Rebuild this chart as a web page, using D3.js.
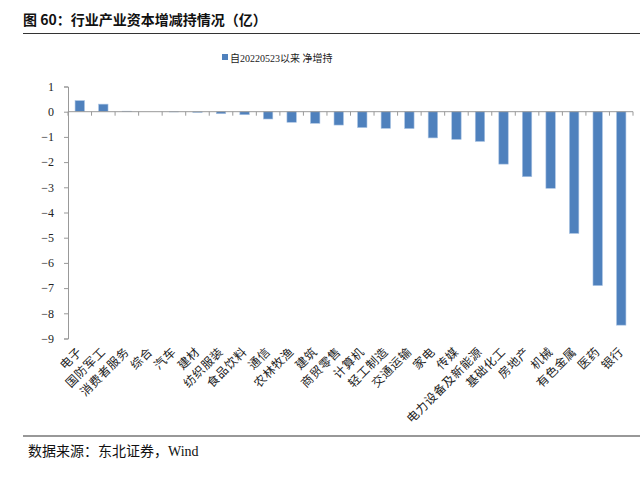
<!DOCTYPE html>
<html><head><meta charset="utf-8">
<script src="https://cdn.jsdelivr.net/npm/d3@7"></script>
<style>body{margin:0;background:#fff}svg{display:block}</style>
</head><body>
<svg id="c" width="640" height="480"></svg>
<script>
const categories = ["电子","国防军工","消费者服务","综合","汽车","建材","纺织服装","食品饮料","通信","农林牧渔","建筑","商贸零售","计算机","轻工制造","交通运输","家电","传媒","电力设备及新能源","基础化工","房地产","机械","有色金属","医药","银行"];
const values = [0.44,0.30,0.02,0.0,-0.01,-0.03,-0.08,-0.12,-0.29,-0.42,-0.46,-0.53,-0.63,-0.66,-0.67,-1.04,-1.10,-1.18,-2.08,-2.58,-3.04,-4.83,-6.90,-8.47];
const yTicks = [1,0,-1,-2,-3,-4,-5,-6,-7,-8,-9];
const seriesName = "自20220523以来 净增持";
const title = "图 60：行业产业资本增减持情况（亿）";
const source = "数据来源：东北证券，Wind";

(function () {
const svg = d3.select("#c");
const serif = "'Liberation Serif','Noto Sans CJK SC',serif";
const cjk = "'Noto Sans CJK SC',sans-serif";
const mLeft = 68, mRight = 633, mTop = 86.5, mBottom = 338.5;
const x = d3.scaleBand().domain(categories).range([mLeft, mRight]).paddingInner(0.6).paddingOuter(0.3);
const xb = d3.scaleBand().domain(categories).range([mLeft, mRight]);
const y = d3.scaleLinear().domain([-9, 1]).range([mBottom, mTop]);

// title
svg.append("text").attr("x", 23).attr("y", 25).attr("font-family", cjk).attr("font-weight", "bold").attr("font-size", 14).attr("fill", "#111").text(title);
svg.append("line").attr("x1", 23).attr("x2", 640).attr("y1", 33.5).attr("y2", 33.5).attr("stroke", "#333").attr("stroke-width", 1.2);

// legend
svg.append("rect").attr("x", 222).attr("y", 54).attr("width", 6).attr("height", 6).attr("fill", "#4f81bd");
svg.append("text").attr("x", 230).attr("y", 61.5).attr("font-family", serif).attr("font-size", 10).attr("fill", "#222").text(seriesName);

// y axis
const yAxis = svg.append("g").attr("transform", `translate(${mLeft},0)`)
  .call(d3.axisLeft(y).tickValues(yTicks).tickSize(4).tickFormat(d3.format("d")));
yAxis.select(".domain").attr("stroke", "#999");
yAxis.selectAll(".tick line").attr("stroke", "#999");
yAxis.selectAll(".tick text").attr("font-family", serif).attr("font-size", 12).attr("fill", "#222").attr("x", -14);

// bars
svg.append("g").selectAll("rect").data(values).join("rect")
  .attr("x", (d, i) => x(categories[i]))
  .attr("width", x.bandwidth())
  .attr("y", d => y(Math.max(0, d)))
  .attr("height", d => Math.abs(y(d) - y(0)))
  .attr("fill", "#4f81bd").attr("stroke", "#a9c3e3").attr("stroke-width", 0.6);

// x axis at zero
const xAxis = svg.append("g").attr("transform", `translate(0,${y(0)})`);
xAxis.append("line").attr("x1", mLeft).attr("x2", mRight).attr("stroke", "#999");
xAxis.selectAll("line.t").data(d3.range(categories.length + 1)).join("line").attr("class", "t")
  .attr("x1", i => mLeft + i * xb.step()).attr("x2", i => mLeft + i * xb.step())
  .attr("y1", 0).attr("y2", 4).attr("stroke", "#999");

// category labels
svg.append("g").selectAll("text").data(categories).join("text")
  .attr("transform", d => `translate(${xb(d) + xb.bandwidth() / 2 + 3},${mBottom + 14}) rotate(-45)`)
  .attr("text-anchor", "end").attr("font-family", cjk).attr("font-size", 12).attr("fill", "#222")
  .attr("letter-spacing", 0.6)
  .text(d => d);

// footer
svg.append("line").attr("x1", 23).attr("x2", 640).attr("y1", 436).attr("y2", 436).attr("stroke", "#333").attr("stroke-width", 1.2);
svg.append("text").attr("x", 28).attr("y", 456).attr("font-family", serif).attr("font-size", 14).attr("fill", "#111").text(source);
})();
</script>
</body></html>
